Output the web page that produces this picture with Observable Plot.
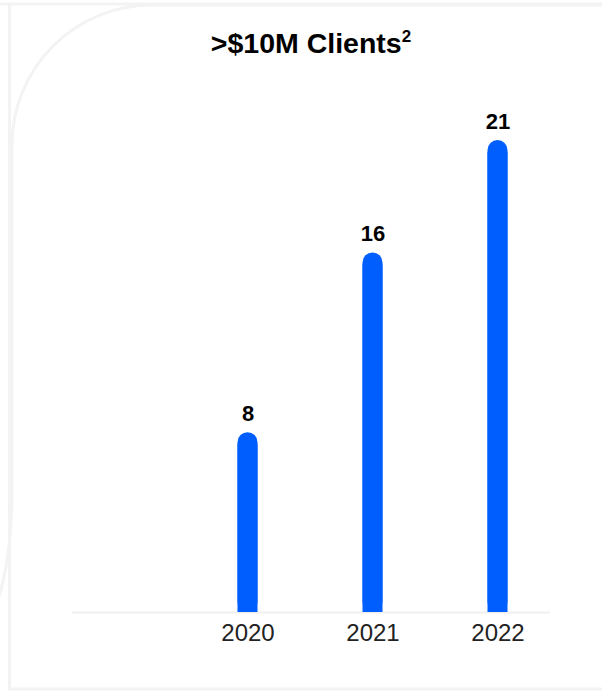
<!DOCTYPE html>
<html>
<head>
<meta charset="utf-8">
<script src="https://cdn.jsdelivr.net/npm/d3@7"></script>
<script src="https://cdn.jsdelivr.net/npm/@observablehq/plot@0.6"></script>
<style>
  html, body { margin: 0; padding: 0; background: #fff; }
  #wrap { position: relative; width: 602px; height: 692px; overflow: hidden; font-family: "Liberation Sans", Arial, Helvetica, sans-serif; }
  #title { position: absolute; left: 20px; width: 582px; top: 27px; text-align: center; font-size: 28.5px; line-height: 32px; font-weight: bold; color: #000; white-space: nowrap; }
  #title .sup { font-size: 17px; position: relative; top: -11px; }
  #chart { position: absolute; left: 0; top: 80px; }
  #deco { position: absolute; left: 0; top: 0; pointer-events: none; }
</style>
</head>
<body>
<div id="wrap">
  <div id="chart"></div>
  <div id="title">&gt;$10M Clients<span class="sup">2</span></div>
  <svg id="deco" width="602" height="692">
    <rect x="9.5" y="4" width="640" height="685" fill="none" stroke="#f3f3f3" stroke-width="3"/>
    <line x1="0" y1="4" x2="10" y2="4" stroke="#f3f3f3" stroke-width="3"/>
    <path d="M 602 5 L 152 5 A 140 140 0 0 0 12 145 L 12 490 Q 12 555 -2 600" fill="none" stroke="#f3f3f3" stroke-width="3"/>
  </svg>
</div>
<script>
const years = ["2020", "2021", "2022"];
const clients = [8, 16, 21];
const data = years.map((year, i) => ({year, value: clients[i]}));

const blue = "#005EFF";

const chart = Plot.plot({
  width: 602,
  height: 612,
  marginLeft: 72,
  marginRight: 52,
  marginTop: 60,
  marginBottom: 80,
  style: {background: "transparent", fontFamily: "'Liberation Sans', Arial, Helvetica, sans-serif", overflow: "visible"},
  x: {domain: years, range: [184.5, 559.5], padding: 0},
  y: {domain: [0, 21], axis: null},
  marks: [
    Plot.ruleY([0], {stroke: "#f0f0f0", strokeWidth: 2}),
    Plot.barY(data, {x: "year", y: "value", fill: blue, insetLeft: 52.5, insetRight: 52.5, rx: 10}),
    Plot.barY(data, {x: "year", y: "value", fill: blue, insetLeft: 52.5, insetRight: 52.5, insetTop: 12}),
    Plot.text(data, {x: "year", y: "value", text: d => String(d.value), lineAnchor: "bottom", dy: -12, fontSize: 22, fontWeight: "bold", fill: "#000"}),
    Plot.axisX({tickSize: 0, tickPadding: 11, fontSize: 24, color: "#222", label: null})
  ]
});
document.getElementById("chart").appendChild(chart);
</script>
</body>
</html>
